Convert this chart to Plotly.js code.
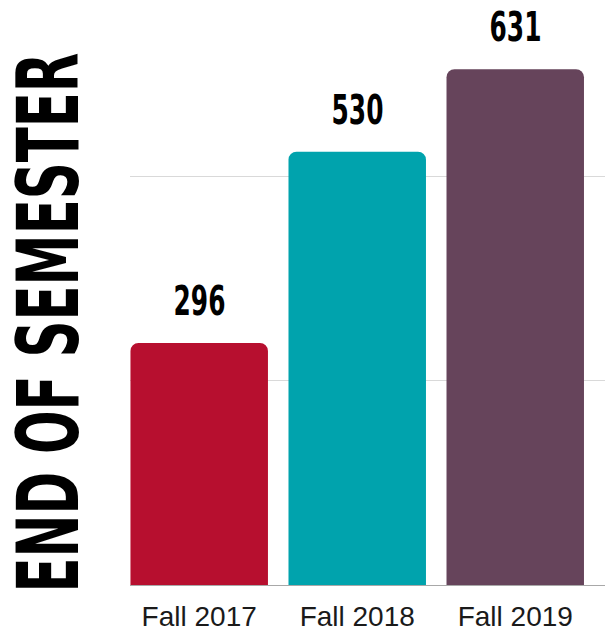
<!DOCTYPE html>
<html>
<head>
<meta charset="utf-8">
<script src="https://cdn.plot.ly/plotly-3.0.1.min.js"></script>
<style>
  html, body { margin: 0; padding: 0; background: #ffffff; }
  #chart { width: 605px; height: 630px; }
</style>
</head>
<body>
<div id="chart"></div>
<script>
// ---- data ----
const categories = ["Fall 2017", "Fall 2018", "Fall 2019"];
const counts = [296, 530, 631];
const barColors = ["#B70F2F", "#00A3AD", "#66445B"];
const yTitle = "END OF SEMESTER";
const gridValues = [0, 250, 500];

const condensed = "Liberation Sans Narrow, DejaVu Sans Condensed, Arial Narrow, sans-serif";

const trace = {
  type: "bar",
  x: categories,
  y: counts,
  marker: { color: barColors, cornerradius: 8, line: { width: 0 } },
  hoverinfo: "none"
};

const annotations = categories.map((c, i) => ({
  x: c, y: counts[i], xref: "x", yref: "y",
  text: String(counts[i]),
  showarrow: false,
  xanchor: "center", yanchor: "bottom",
  yshift: 16,
  font: { family: condensed, size: 41, color: "#000000", weight: "bold" }
}));

annotations.push({
  xref: "paper", yref: "paper",
  x: (47.5 - 130) / 475, y: (585 - 323) / 585,
  xanchor: "center", yanchor: "middle",
  text: yTitle, textangle: -90, showarrow: false,
  font: { family: condensed, size: 86, color: "#000000", weight: "bold" }
});

const layout = {
  width: 605, height: 630,
  margin: { l: 130, r: 0, t: 0, b: 45, pad: 0 },
  paper_bgcolor: "#ffffff", plot_bgcolor: "#ffffff",
  bargap: 0.13,
  showlegend: false,
  xaxis: {
    type: "category",
    range: [-0.438, 2.568],
    showgrid: false, zeroline: false,
    showline: false,
    ticks: "",
    ticklabelstandoff: 12,
    tickfont: { family: "Liberation Sans, Arial, sans-serif", size: 28, color: "#1a1a1a" }
  },
  yaxis: {
    range: [0, 715.6],
    tickvals: gridValues,
    showticklabels: false,
    showgrid: true, gridcolor: "#D9D9D9", gridwidth: 1,
    zeroline: true, zerolinecolor: "#A8A8A8", zerolinewidth: 1,
    showline: false, ticks: ""
  },
  annotations: annotations
};

Plotly.newPlot("chart", [trace], layout, { displayModeBar: false, staticPlot: true }).then(gd => {
  const texts = gd.querySelectorAll(".annotation-text");
  texts.forEach(t => {
    const content = t.textContent;
    if (content === yTitle) {
      t.setAttribute("textLength", 540);
    } else {
      t.setAttribute("textLength", 17.3 * content.length);
    }
    t.setAttribute("lengthAdjust", "spacingAndGlyphs");
  });
});
</script>
</body>
</html>
